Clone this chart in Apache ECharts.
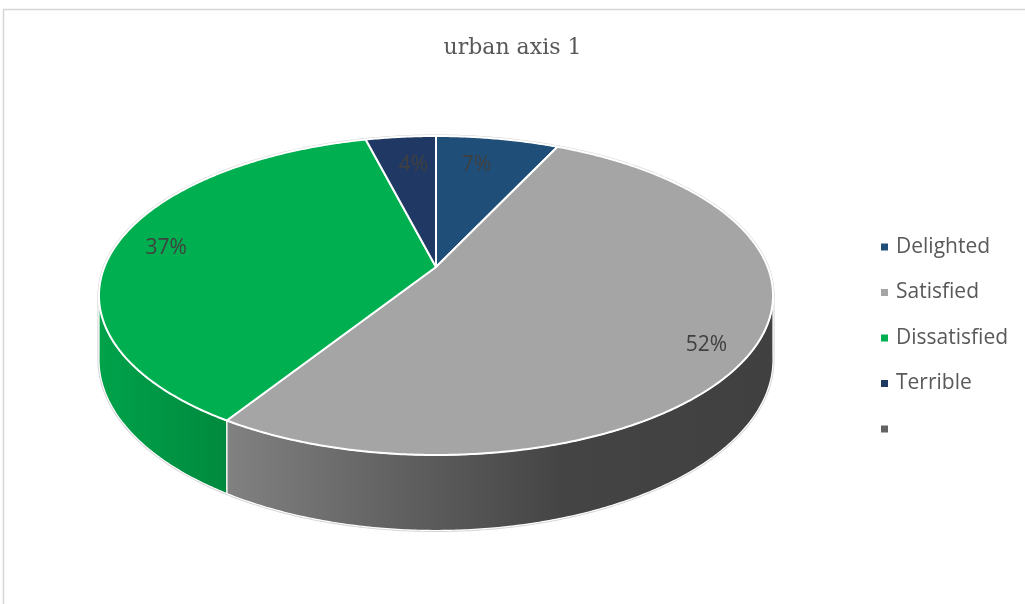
<!DOCTYPE html>
<html><head><meta charset="utf-8">
<script src="https://cdn.jsdelivr.net/npm/echarts@6/dist/echarts.min.js"></script>
<style>html,body{margin:0;padding:0;background:#fff}#c{width:1025px;height:604px}</style>
</head><body><div id="c"></div>
<script>
// ---- data ----
const title = 'urban axis 1';
const categories = ['Delighted', 'Satisfied', 'Dissatisfied', 'Terrible', ' '];
const values = [7, 52, 37, 4, 0];
const palette = ['#1F4E79', '#A5A5A5', '#00B050', '#203864', '#636363'];

// ---- geometry of the tilted pie ----
const G = { cx: 436, cy: 267, rx: 331.6, ry: 154.4, k: 0.1787, h: 62 };
const LABEL_INSET = [49, 26];
const LABEL_DY = 3;
const total = values.reduce((a, b) => a + b, 0);
const startDeg = [];
(function () { let acc = 0; values.forEach(v => { startDeg.push(acc / total * 360); acc += v; }); })();
function proj(deg, r, t) {
  const a = deg * Math.PI / 180;
  const u = r * Math.sin(a), v = -r * Math.cos(a);
  const w = 1 - G.k * v;
  return [G.cx + G.rx * u / w, G.cy + (G.ry * v + G.h * t) / w];
}
function arc(a0, a1, r, t) {
  const pts = []; const n = Math.max(2, Math.ceil(Math.abs(a1 - a0) / 0.5));
  for (let i = 0; i <= n; i++) pts.push(proj(a0 + (a1 - a0) * i / n, r, t));
  return pts;
}
function shade(hex, f) {
  const n = parseInt(hex.slice(1), 16);
  const r = Math.round(((n >> 16) & 255) * f), g = Math.round(((n >> 8) & 255) * f), b = Math.round((n & 255) * f);
  return 'rgb(' + r + ',' + g + ',' + b + ')';
}
const SIL0 = 180 - Math.acos(G.k) * 180 / Math.PI; // right silhouette
const SIL1 = 360 - SIL0;                            // left silhouette

function wallItem(params, api) {
  const i = params.dataIndex;
  const children = [];
  if (i === 0) {
    const hull = arc(SIL1 - 360, SIL0, 1, 0).concat(arc(SIL0, SIL1, 1, 1));
    children.push({ type: 'polygon', shape: { points: hull }, z2: -1,
      style: { fill: '#fff', stroke: '#d4d4d4', lineWidth: 3 } });
  }
  const s = startDeg[i], e = s + api.value(0) / total * 360;
  const lo = Math.max(s, SIL0 - 1), hi = Math.min(e, SIL1 + 1);
  if (hi > lo && api.value(0) > 0) {
    const pts = arc(lo, hi, 1, 0).concat(arc(hi, lo, 1, 1));
    const base = palette[i];
    const grad = new echarts.graphic.LinearGradient(100, 0, 773, 0, [
      { offset: 0, color: shade(base, 0.92) },
      { offset: 0.19, color: shade(base, 0.78) },
      { offset: 0.45, color: shade(base, 0.58) },
      { offset: 0.69, color: shade(base, 0.41) },
      { offset: 1, color: shade(base, 0.39) }
    ], true);
    children.push({ type: 'polygon', shape: { points: pts }, z2: 1,
      style: { fill: grad, stroke: '#fff', lineWidth: 1.2 } });
  }
  return { type: 'group', children: children };
}

function topItem(params, api) {
  const i = params.dataIndex;
  const v = api.value(0);
  if (!(v > 0)) return { type: 'group', children: [] };
  const s = startDeg[i], e = s + v / total * 360;
  const pts = [[G.cx, G.cy]].concat(arc(s, e, 1, 0));
  const mid = (s + e) / 2;
  const rim = proj(mid, 1, 0);
  const dx = rim[0] - G.cx, dy = rim[1] - G.cy, len = Math.sqrt(dx * dx + dy * dy);
  const lp = [rim[0] - dx / len * LABEL_INSET[0], rim[1] - dy / len * LABEL_INSET[1] + LABEL_DY];
  return { type: 'group', children: [
    { type: 'polygon', shape: { points: pts }, z2: 5,
      style: { fill: palette[i], stroke: '#fff', lineWidth: 2, lineJoin: 'round' } },
    { type: 'text', x: lp[0], y: lp[1], z2: 10,
      style: { text: Math.round(v / total * 100) + '%', fill: '#404040',
        font: '21px "Open Sans"', align: 'center', verticalAlign: 'middle',
        textAlign: 'center', textVerticalAlign: 'middle' } }
  ] };
}

const chart = echarts.init(document.getElementById('c'), null, { renderer: 'canvas' });
chart.setOption({
  backgroundColor: '#fff',
  animation: false,
  title: { text: title, left: 'center', top: 32,
    textStyle: { fontFamily: '"DejaVu Serif"', fontSize: 22, fontWeight: 'normal', color: '#595959' } },
  legend: {
    orient: 'vertical', left: 876, top: 231, icon: 'rect', itemWidth: 7, itemHeight: 7, itemGap: 23.5,
    selectedMode: false,
    textStyle: { fontFamily: '"Open Sans"', fontSize: 21, color: '#595959', lineHeight: 22, padding: [0, 0, 0, 3] },
    data: categories
  },
  graphic: [{ type: 'rect', silent: true, shape: { x: 3.5, y: 9.5, width: 1100, height: 700 },
    style: { fill: 'none', stroke: '#d6d6d6', lineWidth: 1.5 } }],
  series: [
    { type: 'pie', radius: 0, center: [-100, -100], silent: true, label: { show: false }, labelLine: { show: false },
      data: categories.map((c, i) => ({ name: c, value: values[i], itemStyle: { color: palette[i] } })) },
    { type: 'custom', coordinateSystem: 'none', z: 2, silent: true, renderItem: wallItem,
      data: values.map((v, i) => ({ name: categories[i], value: [v] })) },
    { type: 'custom', coordinateSystem: 'none', z: 3, silent: true, renderItem: topItem,
      data: values.map((v, i) => ({ name: categories[i], value: [v] })) }
  ]
});
</script></body></html>
